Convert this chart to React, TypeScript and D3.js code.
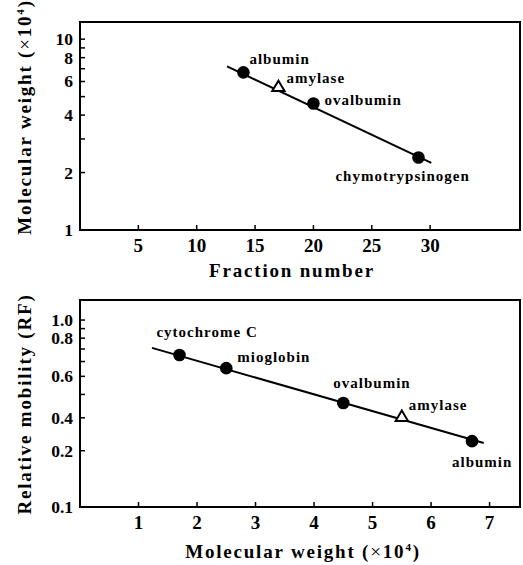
import React from "react";
import * as d3 from "d3";

// ---- Top panel data: gel filtration ----
const topProteins = ["albumin", "amylase", "ovalbumin", "chymotrypsinogen"];
const topFraction = [14, 17, 20, 29];
const topMW = [6.7, 5.6, 4.6, 2.4];
const topMarker = ["circle", "triangle", "circle", "circle"];
const topFitX = [12.6, 30.1];
const topFitY = [7.2, 2.25];
const topXTicks = [5, 10, 15, 20, 25, 30];
const topYTicks = [1, 2, 3, 4, 5, 6, 7, 8, 9, 10];
const topYLabelValues = [1, 2, 4, 6, 8, 10];
const topYLabels = ["1", "2", "4", "6", "8", "10"];

// ---- Bottom panel data: SDS-PAGE ----
const botProteins = ["cytochrome C", "mioglobin", "ovalbumin", "amylase", "albumin"];
const botMW = [1.7, 2.5, 4.5, 5.5, 6.7];
const botRF = [0.65, 0.553, 0.36, 0.303, 0.225];
const botMarker = ["circle", "circle", "circle", "triangle", "circle"];
const botFitX = [1.23, 6.9];
const botFitY = [0.71, 0.22];
const botXTicks = [1, 2, 3, 4, 5, 6, 7];
const botYTicks = [0.1, 0.2, 0.3, 0.4, 0.5, 0.6, 0.7, 0.8, 0.9, 1.0];
const botYLabelValues = [0.1, 0.2, 0.3, 0.5, 0.8, 1.0];
const botYLabels = ["0.1", "0.2", "0.4", "0.6", "0.8", "1.0"];

const FONT = "'Liberation Serif', 'DejaVu Serif', serif";

type LabelPos = { dx: number; dy: number };
const topLabelPos: LabelPos[] = [
  { dx: 6, dy: -8 },
  { dx: 8, dy: -4 },
  { dx: 11, dy: 1 },
  { dx: -83, dy: 24 },
];
const botLabelPos: LabelPos[] = [
  { dx: -23, dy: -18 },
  { dx: 11, dy: -6 },
  { dx: -10, dy: -15 },
  { dx: 7, dy: -7 },
  { dx: -20, dy: 26 },
];

function Marker({ kind, x, y }: { kind: string; x: number; y: number }) {
  if (kind === "triangle") {
    const s = 6.5;
    const pts = [
      [x, y - s],
      [x - s * 0.95, y + s * 0.6],
      [x + s * 0.95, y + s * 0.6],
    ]
      .map((p) => p.join(","))
      .join(" ");
    return <polygon points={pts} fill="white" stroke="black" strokeWidth={2} />;
  }
  return <circle cx={x} cy={y} r={6.3} fill="black" />;
}

function Panel(props: {
  left: number;
  right: number;
  top: number;
  bottom: number;
  xDomain: [number, number];
  yDomain: [number, number];
  xTicks: number[];
  yTicks: number[];
  yLabelValues: number[];
  yLabels: string[];
  names: string[];
  xs: number[];
  ys: number[];
  markers: string[];
  fitX: number[];
  fitY: number[];
  labelPos: LabelPos[];
  xTitle: React.ReactNode;
  yTitle: React.ReactNode;
  xTitleX: number;
  xTitleY: number;
  yTitleX: number;
  yTitleY: number;
}) {
  const x = d3.scaleLinear().domain(props.xDomain).range([props.left, props.right]);
  const y = d3.scaleLog().domain(props.yDomain).range([props.bottom, props.top]);
  const line = d3
    .line<number>()
    .x((_, i) => x(props.fitX[i]))
    .y((v) => y(v));
  const tickLen = 5;
  return (
    <g>
      <rect
        x={props.left}
        y={props.top}
        width={props.right - props.left}
        height={props.bottom - props.top}
        fill="none"
        stroke="black"
        strokeWidth={2}
      />
      {props.xTicks.map((t) => (
        <g key={"xt" + t}>
          <line x1={x(t)} x2={x(t)} y1={props.bottom} y2={props.bottom - tickLen} stroke="black" strokeWidth={1.5} />
          <text
            x={x(t)}
            y={props.bottom + 22}
            textAnchor="middle"
            fontFamily={FONT}
            fontWeight="bold"
            fontSize={19}
          >
            {t}
          </text>
        </g>
      ))}
      {props.yTicks.map((t) => (
        <line
          key={"yt" + t}
          x1={props.left}
          x2={props.left + tickLen}
          y1={y(t)}
          y2={y(t)}
          stroke="black"
          strokeWidth={1.5}
        />
      ))}
      {props.yLabelValues.map((t, i) => (
        <text
          key={"yl" + i}
          x={props.left - 7}
          y={y(t) + 6}
          textAnchor="end"
          fontFamily={FONT}
          fontWeight="bold"
          fontSize={17.5}
        >
          {props.yLabels[i]}
        </text>
      ))}
      <path d={line(props.fitY) || ""} fill="none" stroke="black" strokeWidth={2} />
      {props.xs.map((v, i) => (
        <Marker key={"m" + i} kind={props.markers[i]} x={x(v)} y={y(props.ys[i])} />
      ))}
      {props.names.map((n, i) => (
        <text
          key={"n" + i}
          x={x(props.xs[i]) + props.labelPos[i].dx}
          y={y(props.ys[i]) + props.labelPos[i].dy}
          fontFamily={FONT}
          fontWeight="bold"
          fontSize={15}
          letterSpacing={1}
        >
          {n}
        </text>
      ))}
      <text
        x={props.xTitleX}
        y={props.xTitleY}
        textAnchor="middle"
        fontFamily={FONT}
        fontWeight="bold"
        fontSize={19}
        letterSpacing={1.8}
      >
        {props.xTitle}
      </text>
      <text
        transform={`translate(${props.yTitleX},${props.yTitleY}) rotate(-90)`}
        textAnchor="middle"
        fontFamily={FONT}
        fontWeight="bold"
        fontSize={19}
        letterSpacing={1.8}
      >
        {props.yTitle}
      </text>
    </g>
  );
}

const mwTitle = (
  <>
    Molecular weight  (<tspan fontWeight="normal">×</tspan>10
    <tspan dy={-7} fontSize={11}>4</tspan>
    <tspan dy={7}>)</tspan>
  </>
);

export default function App() {
  return (
    <svg
      width={523}
      height={565}
      style={{ position: "absolute", left: 0, top: 0, background: "white" }}
    >
      <rect width={523} height={565} fill="white" />
      <Panel
        left={80}
        right={520}
        top={22}
        bottom={230}
        xDomain={[0, 37.7]}
        yDomain={[1, 12.3]}
        xTicks={topXTicks}
        yTicks={topYTicks}
        yLabelValues={topYLabelValues}
        yLabels={topYLabels}
        names={topProteins}
        xs={topFraction}
        ys={topMW}
        markers={topMarker}
        fitX={topFitX}
        fitY={topFitY}
        labelPos={topLabelPos}
        xTitle="Fraction number"
        yTitle={mwTitle}
        xTitleX={292}
        xTitleY={277}
        yTitleX={31}
        yTitleY={117}
      />
      <Panel
        left={80}
        right={520}
        top={300}
        bottom={507}
        xDomain={[0, 7.52]}
        yDomain={[0.1, 1.28]}
        xTicks={botXTicks}
        yTicks={botYTicks}
        yLabelValues={botYLabelValues}
        yLabels={botYLabels}
        names={botProteins}
        xs={botMW}
        ys={botRF}
        markers={botMarker}
        fitX={botFitX}
        fitY={botFitY}
        labelPos={botLabelPos}
        xTitle={mwTitle}
        yTitle="Relative mobility (RF)"
        xTitleX={303}
        xTitleY={558}
        yTitleX={31}
        yTitleY={404}
      />
    </svg>
  );
}
